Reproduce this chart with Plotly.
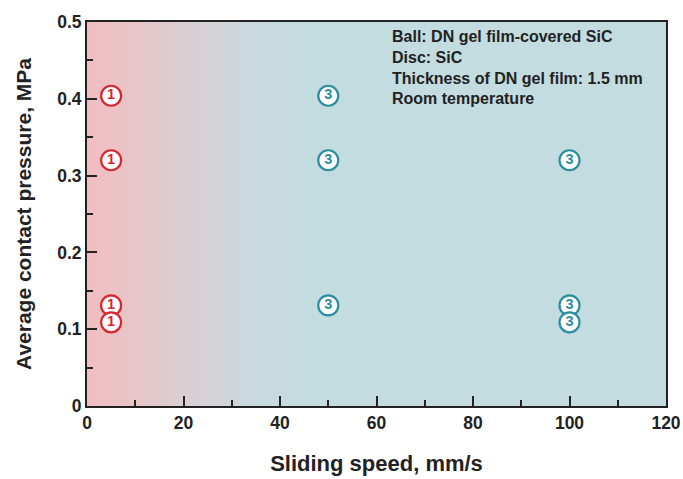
import numpy as np
import plotly.graph_objects as go

# Data
speed_1 = [5, 5, 5, 5]
pressure_1 = [0.404, 0.320, 0.131, 0.109]
label_1 = ["1", "1", "1", "1"]

speed_3 = [50, 50, 50, 100, 100, 100]
pressure_3 = [0.404, 0.320, 0.131, 0.320, 0.131, 0.109]
label_3 = ["3", "3", "3", "3", "3", "3"]

x_ticks = [0, 20, 40, 60, 80, 100, 120]
y_ticks = [0, 0.1, 0.2, 0.3, 0.4, 0.5]
y_tick_text = ["0", "0.1", "0.2", "0.3", "0.4", "0.5"]

info_lines = ["Ball: DN gel film-covered SiC", "Disc: SiC",
              "Thickness of DN gel film: 1.5 mm", "Room temperature"]

red = "#d8262e"
teal = "#2a8ea0"
font = "Liberation Sans, Arial, sans-serif"

fig = go.Figure()

# Background gradient
gx = np.linspace(0, 120, 241)
gz = [list(gx), list(gx)]
fig.add_trace(go.Heatmap(
    x=gx, y=[0, 0.5], z=gz, showscale=False, hoverinfo="skip",
    zmin=0, zmax=120,
    colorscale=[[0, "#f1bec1"], [0.1, "#e4c7ca"], [0.2, "#d6d2d6"],
                [0.3, "#c8dadf"], [0.38, "#c3dce0"], [1, "#c3dce0"]],
    zsmooth="best"))

for xs, ys, labs, col in [(speed_1, pressure_1, label_1, red),
                          (speed_3, pressure_3, label_3, teal)]:
    fig.add_trace(go.Scatter(
        x=xs, y=ys, mode="markers+text", text=labs,
        textposition="middle center",
        textfont=dict(family=font, size=14.5, color=col, weight="bold"),
        marker=dict(symbol="circle", size=20, color="white",
                    line=dict(color=col, width=2.2)),
        showlegend=False))

fig.add_annotation(
    x=62.8, y=0.495, xref="x", yref="y", xanchor="left", yanchor="top",
    text="<br>".join(info_lines), showarrow=False, align="left",
    font=dict(family=font, size=16, color="#222222", weight="bold"))

fig.update_xaxes(
    range=[0, 120], tickvals=x_ticks, ticks="inside", ticklen=10, tickwidth=2,
    tickcolor="#222", showline=True, linewidth=2, linecolor="#222", mirror=True,
    showgrid=False, zeroline=False, ticklabeloverflow="allow",
    minor=dict(ticks="inside", ticklen=6, tickwidth=2, tickcolor="#222", dtick=10),
    tickfont=dict(family=font, size=17.5, color="#222", weight="bold"),
    title=dict(text="Sliding speed, mm/s", standoff=24,
               font=dict(family=font, size=22, color="#222", weight="bold")))
fig.update_yaxes(
    range=[0, 0.5], tickvals=y_ticks, ticktext=y_tick_text, ticks="inside",
    ticklen=10, tickwidth=2, tickcolor="#222", showline=True, linewidth=2,
    linecolor="#222", mirror=True, showgrid=False, zeroline=False,
    ticklabeloverflow="allow",
    minor=dict(ticks="inside", ticklen=6, tickwidth=2, tickcolor="#222", dtick=0.05),
    tickfont=dict(family=font, size=17.5, color="#222", weight="bold"),
    title=dict(text="Average contact pressure, MPa", standoff=20,
               font=dict(family=font, size=21, color="#222", weight="bold")))

fig.update_layout(
    width=683, height=479, margin=dict(l=87, r=17, t=22, b=73, autoexpand=False),
    paper_bgcolor="white", plot_bgcolor="white", showlegend=False)

fig.write_html("out.html", config={"displayModeBar": False},
               post_script="document.body.style.margin='0';"
                           "document.documentElement.style.overflow='hidden';")
